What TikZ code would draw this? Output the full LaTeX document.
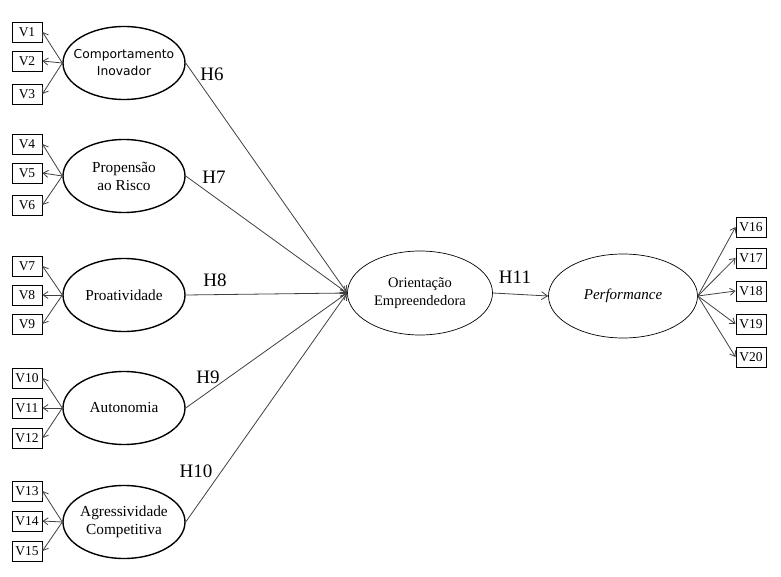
\documentclass[tikz,border=0pt]{standalone}
\usepackage{fontspec}
\setmainfont{Liberation Serif}
\newfontfamily\tahomalike{DejaVu Sans}
\usetikzlibrary{shapes.geometric,arrows.meta}
\tikzset{
  lat/.style={ellipse,draw,line width=1.4pt,minimum width=122pt,minimum height=73pt,inner xsep=-16pt,inner ysep=0pt,align=center,font=\fontsize{15.3}{18}\selectfont},
  latb/.style={ellipse,draw,line width=0.7pt,minimum width=145pt,minimum height=84pt,inner xsep=-10pt,inner ysep=0pt,align=center,font=\fontsize{14.5}{18}\selectfont},
  ind/.style={rectangle,draw,line width=0.9pt,minimum width=30pt,minimum height=20pt,inner sep=0pt,font=\fontsize{13.5}{14}\selectfont},
  load/.style={draw=black!75,line width=0.8pt,-{Straight Barb[length=5pt,width=7pt]}},
  path/.style={draw=black!75,line width=0.8pt,-{Straight Barb[length=6pt,width=8pt]}},
  hlab/.style={font=\fontsize{19}{21}\selectfont,inner sep=0pt}
}
\begin{document}
\begin{tikzpicture}[x=1pt,y=-1pt]
\useasboundingbox (0,0) rectangle (781,577);
% left latent variables
\node[lat,font=\tahomalike\fontsize{12.3}{17}\selectfont] (e1) at (124,63) {Comportamento\\Inovador};
\node[lat] (e2) at (124,176) {Propensão\\ao Risco};
\node[lat] (e3) at (124,295) {Proatividade};
\node[lat] (e4) at (124,408) {Autonomia};
\node[lat] (e5) at (124,522) {Agressividade\\Competitiva};
% central
\node[latb] (oe) at (420,293) {Orientação\\Empreendedora};
\node[latb,minimum width=149pt,font=\fontsize{15}{18}\selectfont] (pf) at (623,296) {\textit{Performance}};
% indicators left
\node[ind] (v1) at (27,32) {V1};
\node[ind] (v2) at (27,61) {V2};
\node[ind] (v3) at (27,94) {V3};
\node[ind] (v4) at (27,144) {V4};
\node[ind] (v5) at (27,173) {V5};
\node[ind] (v6) at (27,205) {V6};
\node[ind] (v7) at (27,266) {V7};
\node[ind] (v8) at (27,295) {V8};
\node[ind] (v9) at (27,324) {V9};
\node[ind] (v10) at (27,378) {V10};
\node[ind] (v11) at (27,408) {V11};
\node[ind] (v12) at (27,438) {V12};
\node[ind] (v13) at (27,491) {V13};
\node[ind] (v14) at (27,521) {V14};
\node[ind] (v15) at (27,551) {V15};
% indicators right
\node[ind] (v16) at (751,227) {V16};
\node[ind] (v17) at (751,258) {V17};
\node[ind] (v18) at (751,291) {V18};
\node[ind] (v19) at (751,324) {V19};
\node[ind] (v20) at (751,357) {V20};
% loadings left
\foreach \e/\a/\b/\c in {e1/v1/v2/v3,e2/v4/v5/v6,e3/v7/v8/v9,e4/v10/v11/v12,e5/v13/v14/v15}{
  \draw[load] (\e.west) -- (\a.east);
  \draw[load] (\e.west) -- (\b.east);
  \draw[load] (\e.west) -- (\c.east);
}
% loadings right
\foreach \v in {v16,v17,v18,v19,v20}{
  \draw[load] (pf.east) -- (\v.west);
}
% structural paths
\foreach \e in {e1,e2,e3,e4,e5}{
  \draw[path] (\e.east) -- (oe.west);
}
\draw[path] (oe.east) -- (pf.west);
% labels
\node[hlab] (h6) at (212,74) {H6};
\node[hlab] (h7) at (214,177) {H7};
\node[hlab] (h8) at (215,280) {H8};
\node[hlab] (h9) at (208,377) {H9};
\node[hlab] (h10) at (196,471) {H10};
\node[hlab] (h11) at (515,277) {H11};
\end{tikzpicture}
\end{document}
